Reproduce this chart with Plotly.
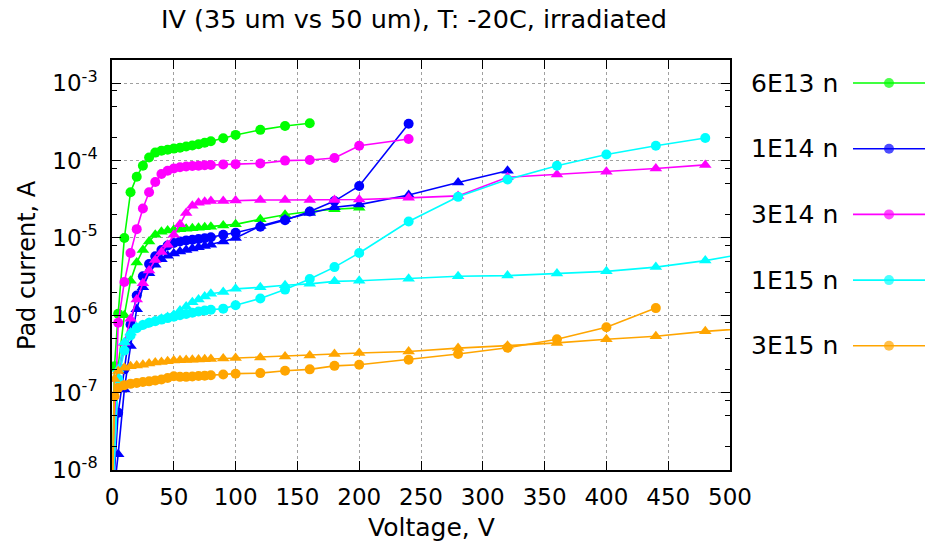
import plotly.graph_objects as go

# ---------------- data (Voltage in V, current in A) ----------------
green_c_v = [0, 2, 5, 10, 15, 20, 25, 30, 35, 40, 45, 50, 55, 60, 65, 70, 75, 80, 90, 100, 120, 140, 160]
green_c_i = [3e-9, 2.2e-7, 1.05e-6, 1.0e-5, 3.9e-5, 6.2e-5, 8.6e-5, 1.1e-4, 1.27e-4, 1.34e-4, 1.38e-4, 1.43e-4,
             1.47e-4, 1.52e-4, 1.57e-4, 1.63e-4, 1.7e-4, 1.78e-4, 1.95e-4, 2.15e-4, 2.5e-4, 2.8e-4, 3.05e-4]

green_t_v = [0, 5, 10, 15, 20, 25, 30, 35, 40, 45, 50, 55, 60, 65, 70, 75, 80, 90, 100, 120, 140, 160, 180, 200]
green_t_i = [3e-9, 2.2e-7, 1.0e-6, 2.8e-6, 4.8e-6, 7e-6, 9e-6, 1.1e-5, 1.2e-5, 1.25e-5, 1.28e-5, 1.3e-5,
             1.32e-5, 1.34e-5, 1.36e-5, 1.38e-5, 1.4e-5, 1.45e-5, 1.5e-5, 1.75e-5, 2.0e-5, 2.2e-5, 2.35e-5, 2.45e-5]

blue_c_v = [0, 5, 10, 15, 20, 25, 30, 35, 40, 45, 50, 55, 60, 65, 70, 75, 80, 90, 100, 120, 140, 160, 180, 200, 240]
blue_c_i = [3e-9, 5.5e-8, 2e-7, 7.6e-7, 1.8e-6, 3.2e-6, 4.6e-6, 5.8e-6, 7.0e-6, 8.0e-6, 8.6e-6, 9.0e-6,
            9.3e-6, 9.5e-6, 9.7e-6, 9.9e-6, 1.02e-5, 1.1e-5, 1.17e-5, 1.4e-5, 1.7e-5, 2.2e-5, 3.0e-5, 4.7e-5, 3.0e-4]

blue_t_v = [0, 5, 10, 15, 20, 25, 30, 35, 40, 45, 50, 55, 60, 65, 70, 75, 80, 90, 100, 120, 140, 160, 180,
            200, 240, 280, 320]
blue_t_i = [3e-9, 1.6e-8, 1.1e-7, 4e-7, 1.2e-6, 2.3e-6, 3.5e-6, 4.5e-6, 5.3e-6, 5.9e-6, 6.3e-6, 6.7e-6,
            7.0e-6, 7.3e-6, 7.6e-6, 7.9e-6, 8.2e-6, 9.0e-6, 1.0e-5, 1.43e-5, 1.75e-5, 2.1e-5, 2.5e-5,
            2.7e-5, 3.6e-5, 5.2e-5, 7.4e-5]

magenta_c_v = [0, 5, 10, 15, 20, 25, 30, 35, 40, 45, 50, 55, 60, 65, 70, 75, 80, 90, 100, 120, 140, 160, 180, 200, 240]
magenta_c_i = [3e-9, 8e-7, 2.7e-6, 6.4e-6, 1.3e-5, 2.4e-5, 3.9e-5, 5.3e-5, 6.7e-5, 7.4e-5, 7.9e-5, 8.2e-5,
               8.4e-5, 8.5e-5, 8.6e-5, 8.7e-5, 8.8e-5, 8.9e-5, 9.0e-5, 9.2e-5, 1.0e-4, 1.02e-4, 1.08e-4,
               1.56e-4, 1.9e-4]

magenta_t_v = [0, 5, 10, 15, 20, 25, 30, 35, 40, 45, 50, 55, 60, 65, 70, 75, 80, 90, 100, 120, 140, 160, 180,
               200, 240, 280, 320, 360, 400, 440, 480]
magenta_t_i = [3e-9, 1.5e-7, 4.4e-7, 9e-7, 1.6e-6, 2.6e-6, 3.8e-6, 5.2e-6, 6.6e-6, 8.2e-6, 1.1e-5, 1.5e-5,
               2.1e-5, 2.6e-5, 2.85e-5, 2.95e-5, 3.0e-5, 3.0e-5, 3.05e-5, 3.1e-5, 3.1e-5, 3.1e-5, 3.1e-5,
               3.15e-5, 3.3e-5, 3.5e-5, 6.1e-5, 6.6e-5, 7.2e-5, 7.9e-5, 8.8e-5]

cyan_c_v = [0, 5, 10, 15, 20, 25, 30, 35, 40, 45, 50, 55, 60, 65, 70, 75, 80, 90, 100, 120, 140, 160, 180,
            200, 240, 280, 320, 360, 400, 440, 480]
cyan_c_i = [3e-9, 1.5e-7, 3.5e-7, 5.5e-7, 6.8e-7, 7.5e-7, 8e-7, 8.4e-7, 8.8e-7, 9.2e-7, 9.6e-7, 1.0e-6,
            1.04e-6, 1.08e-6, 1.12e-6, 1.15e-6, 1.18e-6, 1.22e-6, 1.35e-6, 1.65e-6, 2.15e-6, 2.95e-6, 4.2e-6,
            6.4e-6, 1.63e-5, 3.4e-5, 5.7e-5, 8.6e-5, 1.2e-4, 1.56e-4, 1.96e-4]

cyan_t_v = [0, 5, 10, 15, 20, 25, 30, 35, 40, 45, 50, 55, 60, 65, 70, 75, 80, 90, 100, 120, 140, 160, 180,
            200, 240, 280, 320, 360, 400, 440, 480, 520]
cyan_t_i = [3e-9, 2e-7, 4.5e-7, 6e-7, 7e-7, 7.5e-7, 8e-7, 8.5e-7, 9e-7, 9.5e-7, 1.02e-6, 1.15e-6,
            1.3e-6, 1.47e-6, 1.6e-6, 1.75e-6, 1.9e-6, 2.0e-6, 2.2e-6, 2.3e-6, 2.45e-6, 2.55e-6, 2.75e-6,
            2.8e-6, 2.98e-6, 3.2e-6, 3.26e-6, 3.46e-6, 3.7e-6, 4.2e-6, 5.1e-6, 6.6e-6]

orange_c_v = [0, 2, 5, 10, 15, 20, 25, 30, 35, 40, 45, 50, 55, 60, 65, 70, 75, 80, 90, 100, 120, 140, 160,
              180, 200, 240, 280, 320, 360, 400, 440]
orange_c_i = [3e-9, 9e-8, 1.15e-7, 1.25e-7, 1.3e-7, 1.33e-7, 1.37e-7, 1.4e-7, 1.44e-7, 1.48e-7, 1.55e-7,
              1.63e-7, 1.6e-7, 1.6e-7, 1.62e-7, 1.64e-7, 1.66e-7, 1.68e-7, 1.72e-7, 1.76e-7, 1.79e-7, 1.92e-7,
              2.0e-7, 2.22e-7, 2.3e-7, 2.67e-7, 3.16e-7, 3.8e-7, 4.9e-7, 7e-7, 1.24e-6]

orange_t_v = [0, 2, 5, 10, 15, 20, 25, 30, 35, 40, 45, 50, 55, 60, 65, 70, 75, 80, 90, 100, 120, 140, 160,
              180, 200, 240, 280, 320, 360, 400, 440, 480, 520]
orange_t_i = [3e-9, 1.5e-7, 1.9e-7, 2.1e-7, 2.2e-7, 2.25e-7, 2.3e-7, 2.38e-7, 2.45e-7, 2.5e-7, 2.55e-7,
              2.6e-7, 2.62e-7, 2.64e-7, 2.66e-7, 2.68e-7, 2.7e-7, 2.72e-7, 2.76e-7, 2.8e-7, 2.85e-7, 2.94e-7,
              3.03e-7, 3.16e-7, 3.25e-7, 3.4e-7, 3.77e-7, 4.05e-7, 4.4e-7, 4.9e-7, 5.35e-7, 6.2e-7, 6.9e-7]

legend_names = ["6E13 n", "1E14 n", "3E14 n", "1E15 n", "3E15 n"]
colors = ["#00ff00", "#0000ff", "#ff00ff", "#00ffff", "#ffa500"]

x_ticks = [0, 50, 100, 150, 200, 250, 300, 350, 400, 450, 500]
y_ticks = [1e-8, 1e-7, 1e-6, 1e-5, 1e-4, 1e-3]
y_ticktext = ["10<sup>-8</sup>", "10<sup>-7</sup>", "10<sup>-6</sup>", "10<sup>-5</sup>",
              "10<sup>-4</sup>", "10<sup>-3</sup>"]
y_minor = [m * 10.0 ** e for e in range(-8, -2) for m in (2, 5, 8)]

FONT = "DejaVu Sans"

# ---------------- figure ----------------
W, H = 936, 543
ML, MR, MT, MB = 112, 10, 60, 73
PW = W - ML - MR
PLOT_RIGHT = 730
main_dom = (PLOT_RIGHT - ML) / PW

fig = go.Figure()

series = [
    (green_c_v, green_c_i, colors[0], "circle"),
    (green_t_v, green_t_i, colors[0], "triangle-up"),
    (blue_c_v, blue_c_i, colors[1], "circle"),
    (blue_t_v, blue_t_i, colors[1], "triangle-up"),
    (magenta_c_v, magenta_c_i, colors[2], "circle"),
    (magenta_t_v, magenta_t_i, colors[2], "triangle-up"),
    (cyan_c_v, cyan_c_i, colors[3], "circle"),
    (cyan_t_v, cyan_t_i, colors[3], "triangle-up"),
    (orange_c_v, orange_c_i, colors[4], "circle"),
    (orange_t_v, orange_t_i, colors[4], "triangle-up"),
]
for v, cur, col, sym in series:
    fig.add_trace(go.Scatter(
        x=v, y=cur, mode="lines+markers", showlegend=False,
        line=dict(color=col, width=1.6),
        marker=dict(symbol=sym, size=10 if sym == "circle" else 11, color=col, line=dict(width=0)),
        xaxis="x", yaxis="y"))

# custom legend (text left, sample on the right) drawn on a helper axis pair
LEG_TOP, LEG_STEP = 83, 65.7
for k, (name, col) in enumerate(zip(legend_names, colors)):
    yc = LEG_TOP + k * LEG_STEP
    fig.add_trace(go.Scatter(
        x=[0, 0.5, 1], y=[yc, yc, yc], mode="lines+markers", showlegend=False,
        line=dict(color=col, width=1.6),
        marker=dict(symbol="circle", size=[0, 10, 0], color=col, line=dict(width=0)),
        xaxis="x2", yaxis="y2", hoverinfo="skip"))
    fig.add_annotation(text=name, xref="paper", x=(840 - ML) / PW, xanchor="right",
                       yref="y2", y=yc, yanchor="middle", showarrow=False,
                       font=dict(family=FONT, size=25, color="#000000"))

axis_common = dict(showline=True, linecolor="black", linewidth=1.5, mirror="allticks",
                   ticks="inside", ticklen=9, tickwidth=1, tickcolor="black",
                   showgrid=True, gridcolor="#a0a0a0", griddash="dot", gridwidth=1,
                   zeroline=False, automargin=False,
                   tickfont=dict(family=FONT, size=23, color="black"))

fig.update_layout(
    template="none",
    width=W, height=H, autosize=False,
    margin=dict(l=ML, r=MR, t=MT, b=MB, pad=0),
    paper_bgcolor="white", plot_bgcolor="white",
    font=dict(family=FONT, color="black"),
    title=dict(text="IV (35 um vs 50 um), T: -20C, irradiated", x=(414 - ML) / PW, xref="paper",
               xanchor="center", y=1 - 19 / H, yref="container", yanchor="middle",
               font=dict(family=FONT, size=25.5, color="black")),
    xaxis=dict(domain=[0, main_dom], range=[0, 500], tickmode="array", tickvals=x_ticks,
               ticklabelstandoff=6, anchor="y", **axis_common),
    yaxis=dict(type="log", range=[-8, -2.699], tickmode="array", tickvals=y_ticks, ticktext=y_ticktext,
               ticklabelstandoff=8, anchor="x",
               minor=dict(tickmode="array", tickvals=y_minor, ticks="inside", ticklen=5,
                          tickcolor="black", showgrid=False),
               **axis_common),
    xaxis2=dict(domain=[(853 - ML) / PW, (925 - ML) / PW], range=[0, 1], visible=False,
                anchor="y2", fixedrange=True, automargin=False),
    yaxis2=dict(domain=[0, 1], range=[H - MB, MT], visible=False, anchor="x2", fixedrange=True,
                automargin=False),
    showlegend=False,
)

fig.add_annotation(text="Voltage, V", xref="paper", x=(431 - ML) / PW, xanchor="center",
                   yref="paper", y=(H - MB - 527) / (H - MT - MB), yanchor="middle", showarrow=False,
                   font=dict(family=FONT, size=25, color="black"))
fig.add_annotation(text="Pad current, A", xref="paper", x=(27 - ML) / PW, xanchor="center",
                   yref="paper", y=0.5, yanchor="middle", showarrow=False, textangle=-90,
                   font=dict(family=FONT, size=24, color="black"))

fig.write_html("out.html")
